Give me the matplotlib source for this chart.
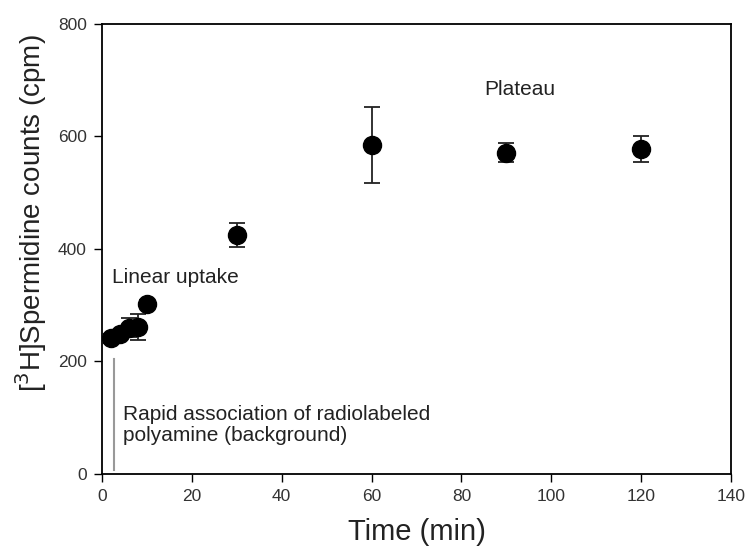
import matplotlib
matplotlib.use("Agg")
from matplotlib import pyplot as plt

plt.rcParams['font.family'] = ['Liberation Sans', 'DejaVu Sans']

# time points (min), counts and error
time_min = [2, 4, 6, 8, 10, 30, 60, 90, 120]
counts = [241, 248, 260, 262, 303, 425, 585, 571, 578]
err = [8, 8, 17, 23, 6, 22, 67, 17, 23]

fig = plt.figure(figsize=(7.47, 5.57), dpi=100)
ax = fig.add_axes([0.1365, 0.149, 0.842, 0.808])

ax.errorbar(time_min, counts, yerr=err, fmt='o', color='black', ms=13,
            ecolor='#222222', elinewidth=1.3, capsize=6, capthick=1.3, zorder=3)

# background line
ax.plot([2.7, 2.7], [7, 205], color='#999999', lw=1.5)

ax.text(2.2, 350, 'Linear uptake', fontsize=15, va='center', ha='left', color='#222222')
ax.text(4.7, 87, 'Rapid association of radiolabeled\npolyamine (background)',
        fontsize=15, va='center', ha='left', color='#222222', linespacing=1.1)
ax.text(93, 683, 'Plateau', fontsize=15, va='center', ha='center', color='#222222')

ax.set_xlim(0, 140)
ax.set_ylim(0, 800)
ax.set_xticks(range(0, 141, 20))
ax.set_yticks(range(0, 801, 200))
ax.tick_params(direction='out', length=6, width=1, labelsize=12.5,
               labelcolor='#333333', pad=5)
for s in ax.spines.values():
    s.set_linewidth(1.3)

ax.set_xlabel('Time (min)', fontsize=21, labelpad=10, color='#222222')
ax.set_ylabel(r'[$^{3}$H]Spermidine counts (cpm)', fontsize=20, color='#222222')
ax.yaxis.set_label_coords(-0.085, 0.58)

fig.savefig('out.png', dpi=100)
